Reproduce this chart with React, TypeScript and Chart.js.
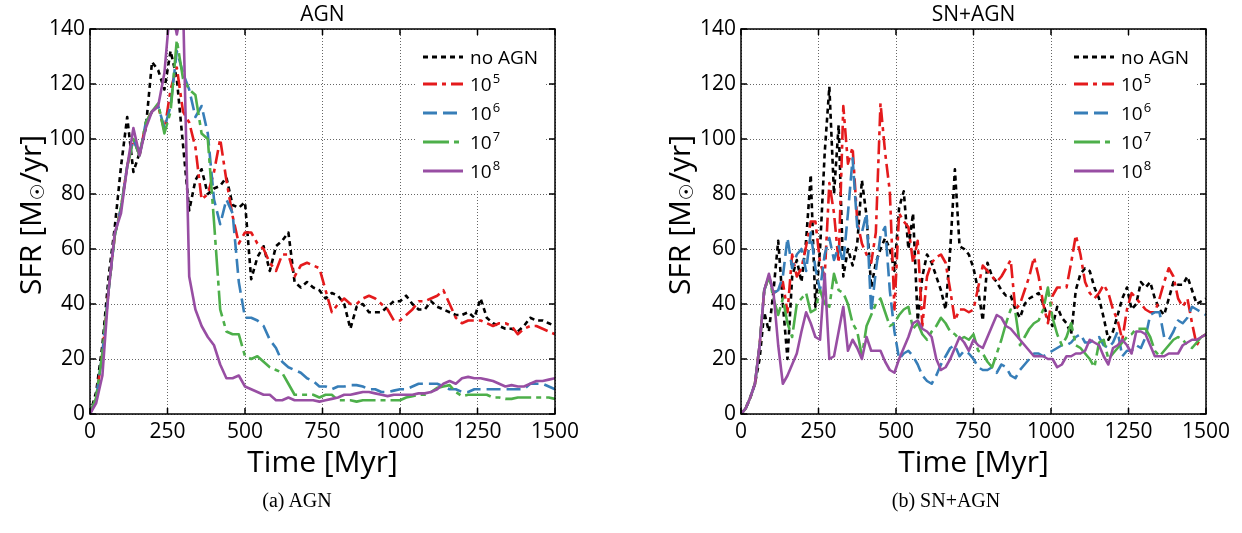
import React, { useEffect, useRef } from "react";
import { Chart, registerables } from "chart.js";
Chart.register(...registerables);

// ---------- DATA ----------
const TIME_AGN = [
  0, 20, 40, 60, 80, 100, 120, 140, 160, 180,
  200, 220, 240, 260, 280, 300, 320, 340, 360, 380,
  400, 420, 440, 460, 480, 500, 520, 540, 560, 580,
  600, 620, 640, 660, 680, 700, 720, 740, 760, 780,
  800, 820, 840, 860, 880, 900, 920, 940, 960, 980,
  1000, 1020, 1040, 1060, 1080, 1100, 1120, 1140, 1160, 1180,
  1200, 1220, 1240, 1260, 1280, 1300, 1320, 1340, 1360, 1380,
  1400, 1420, 1440, 1460, 1480, 1500,
];

const AGN_NOAGN = [
  0, 8, 25, 50, 68, 90, 108, 88, 95, 104,
  128, 125, 118, 132, 122, 98, 74, 85, 89, 80,
  82, 83, 86, 76, 75, 77, 49, 57, 61, 52,
  61, 63, 66, 48, 46, 48, 46, 45, 42, 44,
  43, 40, 31, 39, 40, 37, 37, 37, 39, 41,
  41, 43, 40, 38, 38, 41, 39, 38, 37, 36,
  36, 37, 35, 42, 35, 33, 32, 31, 31, 30,
  32, 35, 34, 34, 33, 32,
];
const AGN_1E5 = [
  0, 6, 22, 45, 65, 75, 90, 100, 94, 106,
  110, 112, 103, 118, 126, 110, 106, 97, 78, 80,
  88, 100, 85, 72, 62, 66, 66, 62, 60, 55,
  52, 58, 58, 50, 54, 55, 54, 53, 45, 37,
  40, 42, 40, 40, 42, 43, 42, 40, 38, 34,
  34, 36, 38, 41, 41, 42, 43, 45, 40, 35,
  33, 34, 34, 34, 33, 32, 33, 33, 32, 29,
  31, 32, 32, 31, 30, 29,
];
const AGN_1E6 = [
  0, 6, 22, 45, 65, 75, 90, 100, 94, 106,
  110, 112, 104, 112, 132, 124, 118, 108, 112, 102,
  78, 69, 78, 73, 48, 35, 35, 34, 32, 27,
  24, 19, 17, 16, 15, 13, 12, 10, 10, 9,
  10, 10, 10.5, 10.5, 10, 9, 9, 8, 8, 8.5,
  9, 9, 10, 11, 11, 11, 11, 10, 9, 9,
  8, 8, 9, 9, 9, 9, 9, 9, 9, 9,
  9, 11, 11, 11, 10, 9,
];
const AGN_1E7 = [
  0, 6, 22, 45, 65, 75, 90, 100, 94, 106,
  110, 113, 102, 110, 136, 122, 118, 116, 102, 100,
  70, 38, 30, 29, 29, 21, 20, 21, 19, 17,
  16, 15, 11, 7, 7, 7, 7, 6, 7, 7,
  5, 5, 5, 4.5, 5, 5, 5, 5, 5, 5,
  5, 6, 6.5, 7, 7, 8, 9.5, 10, 10.5, 8,
  6.5, 7, 7, 7, 7, 6, 6, 5.5, 5.5, 6,
  6, 6, 6, 6, 6, 5.5,
];
const AGN_1E8 = [
  0, 4, 14, 45, 66, 73, 90, 104, 94, 104,
  110, 112, 124, 150, 138, 150, 50, 38, 32, 28,
  25, 18, 13, 13, 14, 10, 9, 8, 7, 7,
  5, 5, 6, 5, 5, 5, 5, 4.5, 5, 5.5,
  6, 7, 7, 7.5, 8, 8, 7.5, 7, 6.5, 7,
  7, 7, 7, 7.5, 7.5, 8, 9, 11, 12, 11,
  13, 13.5, 13, 13, 12.5, 12, 11, 10, 10.5, 10,
  10, 11, 12, 12, 12.5, 13,
];

const TIME_SN = [
  0, 15, 30, 45, 60, 75, 90, 105, 120, 135,
  150, 165, 180, 195, 210, 225, 240, 255, 270, 285,
  300, 315, 330, 345, 360, 375, 390, 405, 420, 435,
  450, 465, 480, 495, 510, 525, 540, 555, 570, 585,
  600, 615, 630, 645, 660, 675, 690, 705, 720, 735,
  750, 765, 780, 795, 810, 825, 840, 855, 870, 885,
  900, 915, 930, 945, 960, 975, 990, 1005, 1020, 1035,
  1050, 1065, 1080, 1095, 1110, 1125, 1140, 1155, 1170, 1185,
  1200, 1215, 1230, 1245, 1260, 1275, 1290, 1305, 1320, 1335,
  1350, 1365, 1380, 1395, 1410, 1425, 1440, 1455, 1470, 1485,
  1500,
];

const SN_NOAGN = [
  0, 2, 6, 11, 20, 37, 30, 45, 63, 40,
  20, 50, 56, 48, 63, 87, 39, 60, 95, 119,
  80, 105, 50, 60, 54, 62, 85, 72, 46, 55,
  60, 64, 60, 52, 75, 81, 60, 73, 34, 50,
  58, 55, 50, 45, 38, 60, 89, 61, 60, 58,
  53, 45, 34, 55, 50, 48, 45, 43, 43, 38,
  35, 40, 42, 43, 44, 40, 35, 32, 39, 35,
  33, 29, 45, 51, 53, 52, 46, 42, 35, 27,
  30, 36, 42, 46, 38, 40, 48, 46, 48, 42,
  38, 36, 42, 48, 47, 47, 50, 45, 40, 41,
  42,
];
const SN_1E5 = [
  0, 2, 6, 11, 25, 45, 50, 44, 45, 48,
  37, 58, 50, 53, 61, 70, 70, 55, 50, 84,
  73, 55, 112, 91, 97, 70, 62, 58, 55, 66,
  113, 95, 81, 38, 73, 70, 68, 55, 63, 32,
  50, 55, 57, 58, 55, 45, 34, 38, 38, 37,
  38, 46, 54, 52, 50, 48, 50, 53, 56, 38,
  40, 45, 50, 57, 50, 40, 33, 43, 46, 46,
  46, 55, 65, 58, 48, 44, 42, 44, 47, 44,
  38, 34, 27, 38, 44, 42, 40, 38, 37, 37,
  42, 48, 53, 50, 42, 39, 42, 33, 25, 28,
  29,
];
const SN_1E6 = [
  0, 2, 6, 11, 25, 45, 50, 44, 45, 50,
  64, 53, 58, 60, 52, 66, 53, 45, 58, 64,
  56, 61, 55, 73, 93, 68, 66, 73, 37, 52,
  65, 68, 45, 30, 20, 22, 23, 21, 18, 14,
  12, 11, 14, 18, 21, 24, 25, 21, 23, 22,
  20, 17, 16, 16, 17, 15, 18, 17, 14, 13,
  16, 18, 20, 22, 22, 21, 22, 23, 24, 25,
  25, 26, 28, 29, 26, 26, 27, 28, 25, 24,
  26, 30, 21, 23, 23, 25, 24, 28, 36, 37,
  37, 28, 27, 30, 34, 33, 35, 39, 38, 37,
  36,
];
const SN_1E7 = [
  0, 2, 6, 11, 25, 45, 50, 42, 36, 42,
  33, 28, 40, 42, 44, 37, 38, 45, 40, 39,
  51, 45, 44, 40, 33, 30, 21, 32, 36, 40,
  42, 37, 32, 33, 36, 38, 39, 31, 33, 29,
  27, 30, 32, 35, 33, 30, 29, 27, 28, 27,
  29, 23, 22, 19, 17, 22, 27, 33, 38, 37,
  25, 28, 31, 33, 34, 38, 46, 35, 29, 25,
  28, 33, 25, 24, 22, 20, 17, 26, 27, 20,
  22, 24, 26, 28, 29, 31, 31, 31, 28, 23,
  21, 23, 25, 27, 28, 27, 25, 24, 26, 28,
  29,
];
const SN_1E8 = [
  0, 2, 6, 11, 25, 45, 51, 44, 25, 11,
  14, 18, 22, 30, 37, 33, 28, 27, 51, 20,
  21, 30, 39, 23, 27, 24, 20, 28, 23, 23,
  23, 19, 16, 15, 20, 24, 28, 33, 34, 31,
  30, 28, 20, 16, 17, 20, 24, 28, 26, 23,
  27, 25, 24, 28, 32, 36, 35, 32, 31, 29,
  27, 25, 23, 21, 21, 21, 20, 20, 17, 18,
  21, 21, 22, 22, 23, 27, 26, 25, 21, 18,
  24, 25, 27, 25, 22, 30, 30, 29, 25, 21,
  21, 21, 22, 22, 22, 25, 26, 27, 27, 28,
  29,
];

const SERIES_LABELS = ["no AGN", "10⁵", "10⁶", "10⁷", "10⁸"];
const LEGEND_BASE = ["no AGN", "10", "10", "10", "10"];
const LEGEND_EXP = ["", "5", "6", "7", "8"];

const X_TICKS = [0, 250, 500, 750, 1000, 1250, 1500];
const Y_TICKS = [0, 20, 40, 60, 80, 100, 120, 140];

// ---------- STYLES ----------
const COLORS = ["#000000", "#e41a1c", "#377eb8", "#4daf4a", "#984ea3"];
const DASHES = [[5, 4], [14, 5, 4, 5], [14, 6], [26, 5, 5, 5], []];
const LINE_W = 2.6;
const FONT = '"Open Sans", "DejaVu Sans", sans-serif';

type Panel = {
  title: string;
  caption: string;
  time: number[];
  series: number[][];
  canvasLeft: number;
  yAxisWidth: number;
  padRight: number;
  yTitleX: number;
  captionX: number;
};

const PANELS: Panel[] = [
  {
    title: "AGN",
    caption: "(a) AGN",
    time: TIME_AGN,
    series: [AGN_NOAGN, AGN_1E5, AGN_1E6, AGN_1E7, AGN_1E8],
    canvasLeft: 0,
    yAxisWidth: 90,
    padRight: 66,
    yTitleX: 32,
    captionX: 297,
  },
  {
    title: "SN+AGN",
    caption: "(b) SN+AGN",
    time: TIME_SN,
    series: [SN_NOAGN, SN_1E5, SN_1E6, SN_1E7, SN_1E8],
    canvasLeft: 621,
    yAxisWidth: 120,
    padRight: 36,
    yTitleX: 60,
    captionX: 946,
  },
];

const CW = 621;
const CH = 533;
const PLOT_TOP = 29;
const PLOT_BOTTOM = 414;

function makeDecor(p: Panel) {
  return {
    id: "decor",
    afterDatasetsDraw(chart: any) {
      const { ctx, chartArea: ca } = chart;
      ctx.save();
      // legend box
      ctx.fillStyle = "#ffffff";
      ctx.fillRect(ca.right - 139, ca.top + 8, 128, 153);
      const rows = [28, 55, 84, 113, 142];
      for (let i = 0; i < 5; i++) {
        const y = ca.top + rows[i];
        ctx.beginPath();
        ctx.strokeStyle = COLORS[i];
        ctx.lineWidth = LINE_W + 0.2;
        ctx.setLineDash(DASHES[i]);
        ctx.lineCap = "butt";
        ctx.moveTo(ca.right - 132, y);
        ctx.lineTo(ca.right - 92, y);
        ctx.stroke();
        ctx.setLineDash([]);
        ctx.fillStyle = "#000";
        ctx.textBaseline = "alphabetic";
        ctx.textAlign = "left";
        ctx.font = `19px ${FONT}`;
        const tx = ca.right - 85;
        ctx.fillText(LEGEND_BASE[i], tx, y + 7);
        if (LEGEND_EXP[i]) {
          const w = ctx.measureText(LEGEND_BASE[i]).width;
          ctx.font = `13px ${FONT}`;
          ctx.fillText(LEGEND_EXP[i], tx + w + 1, y - 1);
        }
      }
      ctx.restore();
    },
    afterDraw(chart: any) {
      const { ctx, chartArea: ca, scales } = chart;
      ctx.save();
      ctx.strokeStyle = "#000";
      ctx.lineWidth = 1.5;
      ctx.setLineDash([]);
      ctx.strokeRect(ca.left, ca.top, ca.right - ca.left, ca.bottom - ca.top);
      ctx.beginPath();
      for (const t of X_TICKS) {
        const x = scales.x.getPixelForValue(t);
        ctx.moveTo(x, ca.bottom);
        ctx.lineTo(x, ca.bottom - 6);
        ctx.moveTo(x, ca.top);
        ctx.lineTo(x, ca.top + 6);
      }
      for (const v of Y_TICKS) {
        const y = scales.y.getPixelForValue(v);
        ctx.moveTo(ca.left, y);
        ctx.lineTo(ca.left + 6, y);
        ctx.moveTo(ca.right, y);
        ctx.lineTo(ca.right - 6, y);
      }
      ctx.stroke();

      // panel title
      ctx.fillStyle = "#000";
      ctx.textAlign = "center";
      ctx.textBaseline = "alphabetic";
      ctx.font = `21px ${FONT}`;
      const cx = (ca.left + ca.right) / 2;
      ctx.fillText(p.title, cx, 21);

      // x title
      ctx.font = `30px ${FONT}`;
      ctx.textBaseline = "middle";
      ctx.fillText("Time [Myr]", cx, 463);

      // y title with subscript
      ctx.save();
      ctx.translate(p.yTitleX, 215);
      ctx.rotate(-Math.PI / 2);
      const parts: [string, string, number][] = [
        ["SFR [M", `30px ${FONT}`, 0],
        ["☉", `19px ${FONT}`, 7],
        ["/yr]", `30px ${FONT}`, 0],
      ];
      let total = 0;
      for (const [s, f] of parts) {
        ctx.font = f;
        total += ctx.measureText(s).width;
      }
      let x0 = -total / 2;
      ctx.textAlign = "left";
      ctx.textBaseline = "middle";
      for (const [s, f, dy] of parts) {
        ctx.font = f;
        ctx.fillText(s, x0, dy);
        x0 += ctx.measureText(s).width;
      }
      ctx.restore();
      ctx.restore();
    },
  };
}

function buildChart(canvas: HTMLCanvasElement, p: Panel) {
  const datasets = p.series.map((vals, i) => ({
    label: SERIES_LABELS[i],
    data: p.time.map((t, j) => ({ x: t, y: vals[j] })),
    borderColor: COLORS[i],
    backgroundColor: COLORS[i],
    borderWidth: LINE_W,
    borderDash: DASHES[i],
    borderCapStyle: "butt" as const,
    borderJoinStyle: "round" as const,
    pointRadius: 0,
    tension: 0,
    fill: false,
    order: 5 - i,
  }));
  const plain = (v: any) => String(v);
  return new Chart(canvas, {
    type: "line",
    data: { datasets },
    options: {
      animation: false,
      responsive: false,
      devicePixelRatio: 1,
      layout: { padding: { left: 0, right: p.padRight, top: PLOT_TOP, bottom: 0 } },
      plugins: { legend: { display: false }, tooltip: { enabled: false }, title: { display: false } },
      scales: {
        x: {
          type: "linear",
          min: 0,
          max: 1500,
          afterFit: (s: any) => {
            s.height = CH - PLOT_BOTTOM;
          },
          afterBuildTicks: (s: any) => {
            s.ticks = X_TICKS.map((v) => ({ value: v }));
          },
          ticks: {
            autoSkip: false,
            maxRotation: 0,
            padding: 5,
            color: "#000",
            font: { family: FONT, size: 21 },
            callback: plain,
          },
          grid: { color: "#666", lineWidth: 1, drawTicks: false },
          border: { display: false, dash: [1, 2] },
        },
        y: {
          type: "linear",
          min: 0,
          max: 140,
          afterFit: (s: any) => {
            s.width = p.yAxisWidth;
          },
          afterBuildTicks: (s: any) => {
            s.ticks = Y_TICKS.map((v) => ({ value: v }));
          },
          ticks: {
            padding: 5,
            color: "#000",
            font: { family: FONT, size: 21 },
            callback: plain,
          },
          grid: { color: "#666", lineWidth: 1, drawTicks: false },
          border: { display: false, dash: [1, 2] },
        },
      },
    },
    plugins: [makeDecor(p)],
  } as any);
}

export default function App() {
  const leftRef = useRef<HTMLCanvasElement>(null);
  const rightRef = useRef<HTMLCanvasElement>(null);
  useEffect(() => {
    const c1 = buildChart(leftRef.current!, PANELS[0]);
    const c2 = buildChart(rightRef.current!, PANELS[1]);
    return () => {
      c1.destroy();
      c2.destroy();
    };
  }, []);
  return (
    <div style={{ position: "absolute", left: 0, top: 0, width: 1242, height: 533, background: "#fff", overflow: "hidden" }}>
      <canvas ref={leftRef} width={CW} height={CH} style={{ position: "absolute", left: PANELS[0].canvasLeft, top: 0, width: CW, height: CH }} />
      <canvas ref={rightRef} width={CW} height={CH} style={{ position: "absolute", left: PANELS[1].canvasLeft, top: 0, width: CW, height: CH }} />
      {PANELS.map((p) => (
        <div
          key={p.caption}
          style={{
            position: "absolute",
            left: p.captionX - 150,
            top: 487,
            width: 300,
            textAlign: "center",
            fontFamily: '"Liberation Serif", "Times New Roman", serif',
            fontSize: 20,
            lineHeight: "26px",
            color: "#000",
          }}
        >
          {p.caption}
        </div>
      ))}
    </div>
  );
}
